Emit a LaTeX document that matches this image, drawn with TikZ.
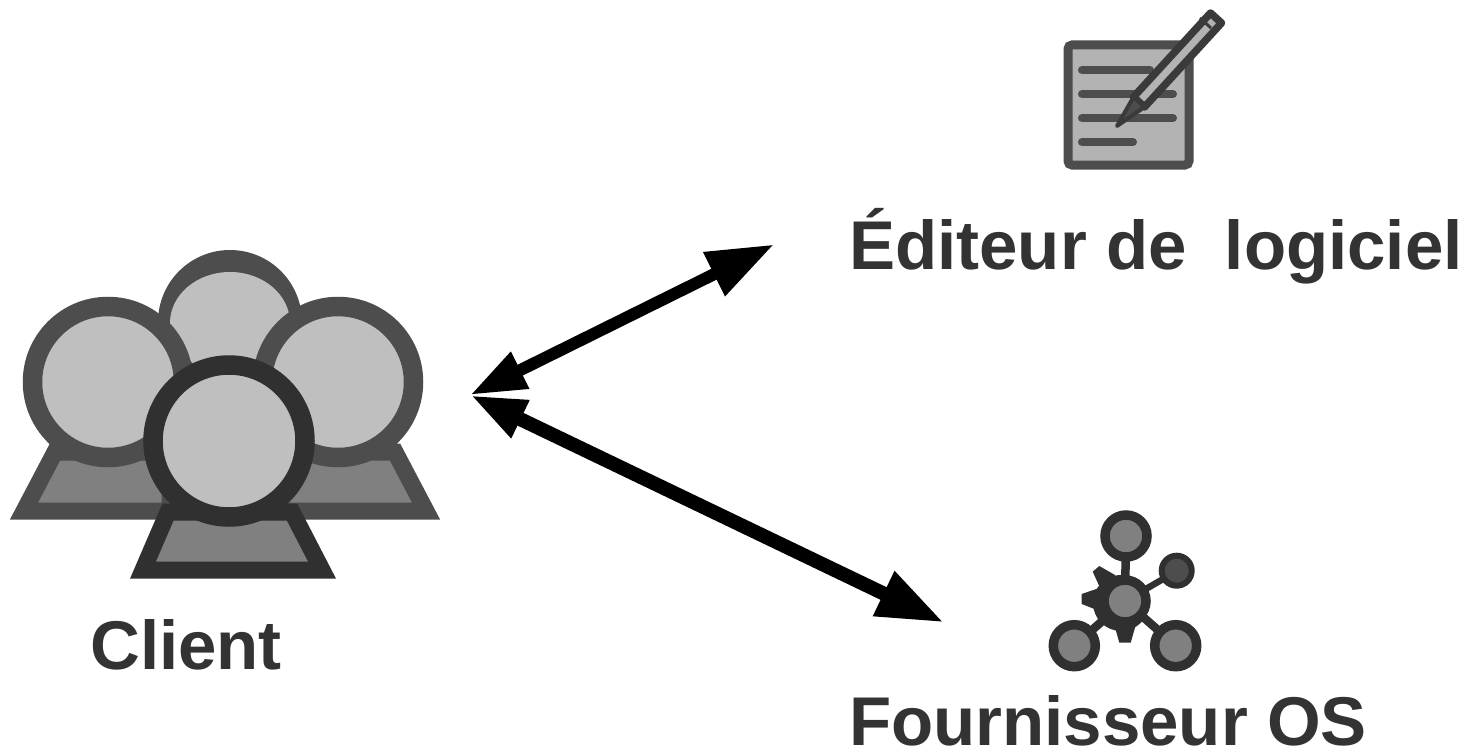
\documentclass[tikz,border=0pt]{standalone}
\usepackage{fontspec}
\setmainfont{Liberation Sans}
\usetikzlibrary{arrows.meta}
\definecolor{inkA}{HTML}{4D4D4D}
\definecolor{inkB}{HTML}{303030}
\definecolor{inkC}{HTML}{3A3A3A}
\definecolor{faceA}{HTML}{BFBFBF}
\definecolor{faceB}{HTML}{808080}
\definecolor{paperC}{HTML}{B3B3B3}
\definecolor{textC}{HTML}{333333}
\tikzset{
  label text/.style={anchor=base west,inner sep=0pt,text=textC,font=\fontsize{69}{72}\selectfont\bfseries},
  link/.style={draw=black,{Triangle[length=56pt,width=38pt]}-{Triangle[length=67pt,width=46pt]}},
  head back/.style={draw=inkA,fill=faceA,line width=19.5pt},
  head front/.style={draw=inkB,fill=faceA,line width=19.5pt},
  body back/.style={draw=inkA,fill=faceB,line width=17pt,line join=miter},
  body front/.style={draw=inkB,fill=faceB,line width=17pt,line join=miter},
  text rule/.style={draw=inkA,line width=8pt,line cap=round},
  net ring/.style={draw=inkB,fill=faceB,line width=9.5pt},
  net bar/.style={draw=inkB,line width=8.5pt},
}
\begin{document}
\begin{tikzpicture}[x=1pt,y=-1pt]
\useasboundingbox (0,0) rectangle (1475,752);
% client group
\fill[inkA] (230,322) circle (72pt);
\fill[faceA] (230,323) ellipse (60pt and 51pt);
\draw[body back] (24,511) -- (55,452) -- (170,452) -- (170,511) -- cycle;
\draw[head back] (108,382) circle (75.5pt);
\draw[body back] (426,511) -- (395,452) -- (280,452) -- (280,511) -- cycle;
\draw[head back] (338,382) circle (75.5pt);
\draw[body front] (143,570) -- (168,512) -- (292,512) -- (322,570) -- cycle;
\draw[head front] (229,441) circle (76pt);
% document and pencil
\draw[draw=inkA,fill=paperC,line width=9pt,rounded corners=4pt] (1068,45) rectangle (1189,165);
\draw[text rule] (1082,70) -- (1150,70);
\draw[text rule] (1082,94) -- (1173,94);
\draw[text rule] (1082,118) -- (1173,118);
\draw[text rule] (1082,142) -- (1133,142);
\draw[draw=inkC,fill=paperC,line width=7.5pt,line join=round]
  (1144.5,107) -- (1221.5,23) -- (1210.5,13) -- (1133.5,97) -- cycle;
\draw[draw=inkC,line width=3pt] (1211,28) -- (1200,18);
\fill[inkA,draw=inkC,line width=4pt,line join=round] (1117,126) -- (1144.5,107) -- (1133.5,97) -- cycle;
% network
\draw[net bar] (1126,536) -- (1125,601);
\draw[net bar,line width=6.5pt] (1177,571) -- (1125,601);
\draw[net bar] (1074,646) -- (1125,601) -- (1176,646);
\fill[inkB] (1121,603) circle (28pt);
\fill[inkB] (1081.7,594) -- (1081.7,604) -- (1102,612) -- (1102,587) -- cycle;
\fill[inkB] (1092.7,571.7) -- (1099.3,566) -- (1115,575) -- (1115,582) -- (1102,592) -- cycle;
\fill[inkB] (1119.3,642.7) -- (1130.7,642.7) -- (1136.7,621.7) -- (1113.3,621.7) -- cycle;
\draw[net ring] (1126,536) circle (21pt);
\draw[net ring] (1125,601) circle (21pt);
\draw[net ring] (1074.3,645.7) circle (21pt);
\draw[net ring] (1175.7,645.7) circle (21pt);
\draw[draw=inkB,fill=inkA,line width=6pt] (1176.7,570.7) circle (15pt);
% labels
\node[label text] (client) at (90,669) {Client};
\node[label text] (editeur) at (849,269) {Éditeur de\ \ logiciel};
\node[label text] (fournisseur) at (849,745) {Fournisseur OS};
% connectors
\coordinate (hub) at (470,395);
\coordinate (toEditeur) at (774,244.5);
\coordinate (toFournisseur) at (944,622.5);
\draw[link,line width=12pt] (hub) -- (toEditeur);
\draw[link,line width=14pt] (hub) -- (toFournisseur);
\end{tikzpicture}
\end{document}
